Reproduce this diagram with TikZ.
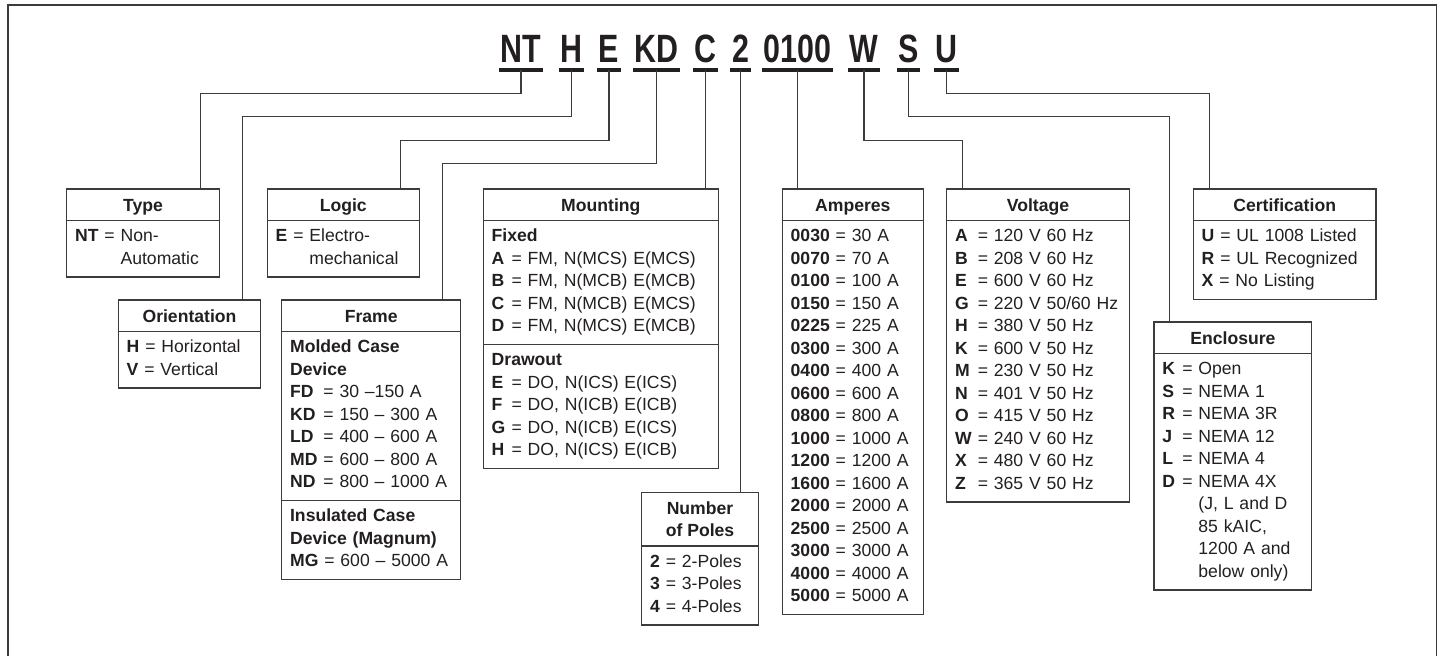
\documentclass[tikz,border=0pt]{standalone}
\usepackage{fontspec}
\setmainfont{Liberation Sans}
\newfontfamily\codefont{Liberation Sans}[FakeStretch=0.77]
\usepackage{tikz}
\usetikzlibrary{positioning}
\definecolor{ruleink}{HTML}{3C3C3C}
\definecolor{textink}{HTML}{231F20}
\newcommand{\cw}[2]{\makebox[#1][l]{\textbf{#2}}}
\newcommand{\bodysize}{\fontsize{8.8}{11.25}\selectfont}

\begin{document}
\begin{tikzpicture}[
  x=0.5pt, y=-0.5pt,
  every node/.style={text=textink},
  codeltr/.style={font=\codefont\bfseries\fontsize{19.75}{20}\selectfont, inner xsep=0.8pt, inner ysep=0pt, outer sep=0pt, anchor=base},
  uline/.style={draw=textink, line width=1.6pt},
  hdrbox/.style={draw=ruleink, line width=0.65pt, outer sep=0pt, inner sep=0pt, minimum height=15.75pt, font=\bodysize\bfseries, anchor=north west},
  hdr/.style={hdrbox, text height=6.3pt, text depth=0pt},
  body/.style={draw=ruleink, line width=0.65pt, outer sep=0pt, inner xsep=4.2pt, inner ysep=2.875pt, align=left, font=\bodysize, anchor=north west, execute at begin node=\strut, execute at end node=\strut},
  conn/.style={draw=ruleink, line width=0.65pt}
]
\useasboundingbox (0,0) rectangle (1444,656);

% outer frame (open at the bottom)
\draw[conn] (8,656) -- (8,5) -- (1436.7,5) -- (1436.7,656);

% catalog number
\node[codeltr] (nt) at (521,63) {NT};
\node[codeltr] (h) at (571.6,63) {H};
\node[codeltr] (e) at (609.1,63) {E};
\node[codeltr] (kd) at (656.8,63) {KD};
\node[codeltr] (c) at (705.4,63) {C};
\node[codeltr] (two) at (740.5,63) {2};
\node[codeltr] (amp) at (797.8,63) {0100};
\node[codeltr] (w) at (864,63) {W};
\node[codeltr] (s) at (908.7,63) {S};
\node[codeltr] (u) at (946.6,63) {U};
\foreach \n in {nt,h,e,kd,c,two,amp,w,s,u}
  \draw[uline] ([yshift=-3.5pt]\n.base west) -- ([yshift=-3.5pt]\n.base east);

% Type
\node[hdr, minimum width=76.3pt] (type) at (66.7,189) {Type};
\node[body, text width=67.9pt] (typeb) at (type.south west)
  {\textbf{NT} = Non-\\\phantom{\textbf{NT} = }Automatic};

% Orientation
\node[hdr, minimum width=71.2pt] (orient) at (118.3,300) {Orientation};
\node[body, text width=62.8pt] (orientb) at (orient.south west)
  {\textbf{H} = Horizontal\\\textbf{V} = Vertical};

% Logic
\node[hdr, minimum width=76pt] (logic) at (267.3,189) {Logic};
\node[body, text width=67.6pt] (logicb) at (logic.south west)
  {\textbf{E} = Electro-\\\phantom{\textbf{E} = }mechanical};

% Frame
\node[hdr, minimum width=89.5pt] (frame) at (281.7,300) {Frame};
\node[body, text width=81.1pt] (framea) at (frame.south west)
  {\textbf{Molded Case}\\\textbf{Device}\\
   \cw{13.7pt}{FD} = 30 --150 A\\
   \cw{13.7pt}{KD} = 150 -- 300 A\\
   \cw{13.7pt}{LD} = 400 -- 600 A\\
   \cw{13.7pt}{MD} = 600 -- 800 A\\
   \cw{13.7pt}{ND} = 800 -- 1000 A};
\node[body, text width=81.1pt] (frameb) at (framea.south west)
  {\textbf{Insulated Case}\\\textbf{Device (Magnum)}\\
   \textbf{MG} = 600 -- 5000 A};

% Mounting
\node[hdr, minimum width=117.5pt] (mount) at (483.3,189) {Mounting};
\node[body, text width=109.1pt] (mounta) at (mount.south west)
  {\textbf{Fixed}\\
   \cw{7pt}{A} = FM, N(MCS) E(MCS)\\
   \cw{7pt}{B} = FM, N(MCB) E(MCB)\\
   \cw{7pt}{C} = FM, N(MCB) E(MCS)\\
   \cw{7pt}{D} = FM, N(MCS) E(MCB)};
\node[body, text width=109.1pt] (mountb) at (mounta.south west)
  {\textbf{Drawout}\\
   \cw{7pt}{E} = DO, N(ICS) E(ICS)\\
   \cw{7pt}{F} = DO, N(ICB) E(ICB)\\
   \cw{7pt}{G} = DO, N(ICB) E(ICS)\\
   \cw{7pt}{H} = DO, N(ICS) E(ICB)};

% Number of Poles
\node[hdrbox, minimum width=58.3pt, minimum height=26.65pt, align=center] (poles) at (641.7,492.7) {Number\\of Poles};
\node[body, text width=49.9pt] (polesb) at (poles.south west)
  {\textbf{2} = 2-Poles\\\textbf{3} = 3-Poles\\\textbf{4} = 4-Poles};

% Amperes
\node[hdr, minimum width=70.5pt] (amps) at (782.3,189) {Amperes};
\node[body, text width=62.1pt] (ampsb) at (amps.south west)
  {\textbf{0030} = 30 A\\\textbf{0070} = 70 A\\\textbf{0100} = 100 A\\
   \textbf{0150} = 150 A\\\textbf{0225} = 225 A\\\textbf{0300} = 300 A\\
   \textbf{0400} = 400 A\\\textbf{0600} = 600 A\\\textbf{0800} = 800 A\\
   \textbf{1000} = 1000 A\\\textbf{1200} = 1200 A\\\textbf{1600} = 1600 A\\
   \textbf{2000} = 2000 A\\\textbf{2500} = 2500 A\\\textbf{3000} = 3000 A\\
   \textbf{4000} = 4000 A\\\textbf{5000} = 5000 A};

% Voltage
\node[hdr, minimum width=91.3pt] (volt) at (946.7,189) {Voltage};
\node[body, text width=82.9pt] (voltb) at (volt.south west)
  {\cw{8.4pt}{A} = 120 V 60 Hz\\
   \cw{8.4pt}{B} = 208 V 60 Hz\\
   \cw{8.4pt}{E} = 600 V 60 Hz\\
   \cw{8.4pt}{G} = 220 V 50/60 Hz\\
   \cw{8.4pt}{H} = 380 V 50 Hz\\
   \cw{8.4pt}{K} = 600 V 50 Hz\\
   \cw{8.4pt}{M} = 230 V 50 Hz\\
   \cw{8.4pt}{N} = 401 V 50 Hz\\
   \cw{8.4pt}{O} = 415 V 50 Hz\\
   \cw{8.4pt}{W} = 240 V 60 Hz\\
   \cw{8.4pt}{X} = 480 V 60 Hz\\
   \cw{8.4pt}{Z} = 365 V 50 Hz};

% Enclosure
\node[hdr, minimum width=78.9pt] (encl) at (1154,322) {Enclosure};
\node[body, text width=70.5pt] (enclb) at (encl.south west)
  {\cw{7pt}{K} = Open\\
   \cw{7pt}{S} = NEMA 1\\
   \cw{7pt}{R} = NEMA 3R\\
   \cw{7pt}{J} = NEMA 12\\
   \cw{7pt}{L} = NEMA 4\\
   \cw{7pt}{D} = NEMA 4X\\
   \phantom{\cw{7pt}{D} = }(J, L and D\\
   \phantom{\cw{7pt}{D} = }85 kAIC,\\
   \phantom{\cw{7pt}{D} = }1200 A and\\
   \phantom{\cw{7pt}{D} = }below only)};

% Certification
\node[hdr, minimum width=91.35pt] (cert) at (1193.3,189) {Certification};
\node[body, text width=82.95pt] (certb) at (cert.south west)
  {\textbf{U} = UL 1008 Listed\\\textbf{R} = UL Recognized\\\textbf{X} = No Listing};

% connectors
\draw[conn] ([yshift=-3.5pt]nt.base) -- ++(0,23.3) -| ([xshift=67pt]type.north west);
\draw[conn] ([yshift=-3.5pt]h.base) -- ++(0,46.7) -| ([xshift=62.1pt]orient.north west);
\draw[conn] ([yshift=-3.5pt]e.base) -- ++(0,70.7) -| ([xshift=66.7pt]logic.north west);
\draw[conn] ([yshift=-3.5pt]kd.base) -- ++(0,93.3) -| ([xshift=80.4pt]frame.north west);
\draw[conn] ([yshift=-3.5pt]c.base) -- (c.base |- mount.north);
\draw[conn] ([yshift=-3.5pt]two.base) -- (two.base |- poles.north);
\draw[conn] ([yshift=-3.5pt]amp.base) -- (amp.base |- amps.north);
\draw[conn] ([yshift=-3.5pt]w.base) -- ++(0,70.7) -| ([xshift=8pt]volt.north west);
\draw[conn] ([yshift=-3.5pt]s.base) -- ++(0,46.7) -| ([xshift=7.65pt]encl.north west);
\draw[conn] ([yshift=-3.5pt]u.base) -- ++(0,23.3) -| ([xshift=8pt]cert.north west);

\end{tikzpicture}
\end{document}
